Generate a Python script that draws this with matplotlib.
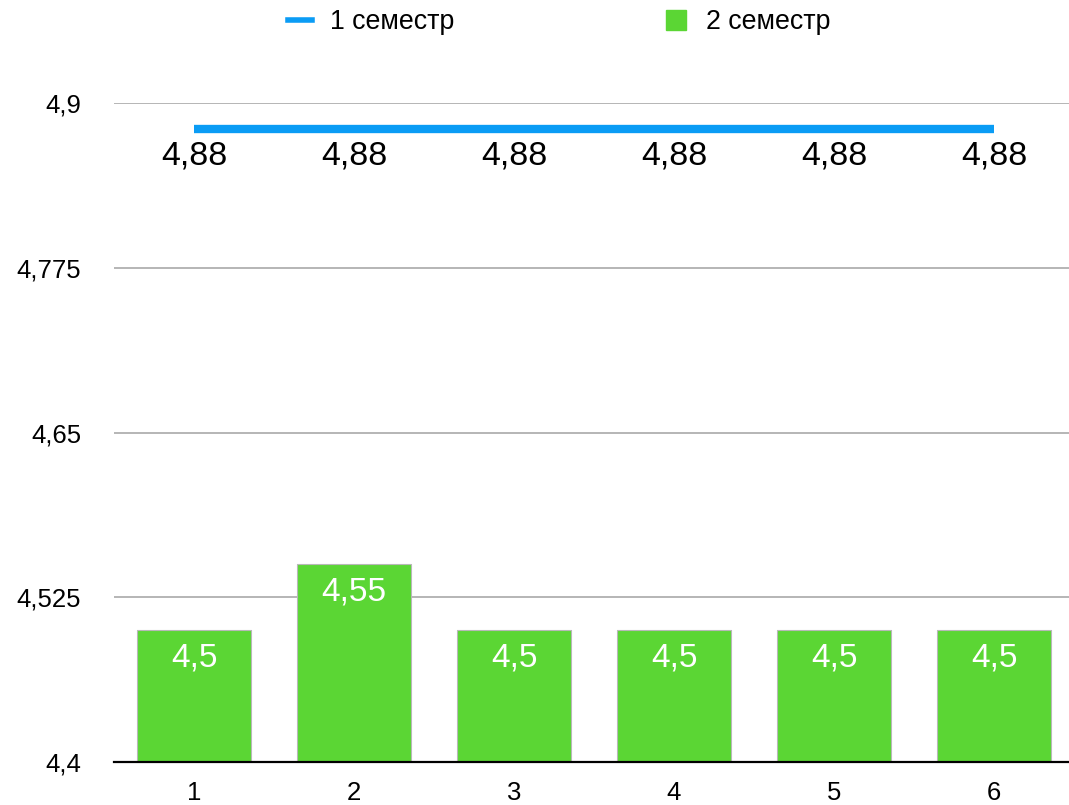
import matplotlib
matplotlib.use("Agg")
import matplotlib.pyplot as plt
from matplotlib.lines import Line2D
import numpy as np

plt.rcParams['font.family'] = ['Liberation Sans', 'DejaVu Sans']

# data
categories = ['1', '2', '3', '4', '5', '6']
sem1 = [4.88, 4.88, 4.88, 4.88, 4.88, 4.88]
sem2 = [4.5, 4.55, 4.5, 4.5, 4.5, 4.5]
yticks = [4.4, 4.525, 4.65, 4.775, 4.9]
series_names = ['1 семестр', '2 семестр']

blue = '#0A9CF5'
green = '#5BD634'

def fmt(v):
    return ('%g' % v).replace('.', ',')

fig = plt.figure(figsize=(10.69, 8.05), dpi=100)
ax = fig.add_axes([114/1069, 1 - 762/805, 960/1069, (762-103)/805])

x = np.arange(len(categories))
ax.bar(x, sem2, width=0.71, bottom=0, color=green, edgecolor='#b8b8b8',
       linewidth=0.8, zorder=2)
ax.plot(x, sem1, color=blue, lw=6, solid_capstyle='butt', zorder=3)

ax.set_xlim(-0.5, len(categories) - 0.5)
ax.set_ylim(4.4, 4.9)
ax.set_yticks(yticks)
ax.set_yticklabels([fmt(v) for v in yticks], fontsize=18.5)
ax.set_xticks(x)
ax.set_xticklabels(categories, fontsize=18.5)
ax.tick_params(axis='both', length=0)
ax.tick_params(axis='y', pad=23.5)
ax.tick_params(axis='x', pad=14)

ax.yaxis.grid(True, color='#b0b0b0', lw=1.3, zorder=0)
ax.set_axisbelow(True)
for s in ['top', 'right', 'left']:
    ax.spines[s].set_visible(False)
ax.spines['bottom'].set_linewidth(1.6)
ax.spines['bottom'].set_zorder(4)

for xi, v in zip(x, sem1):
    ax.annotate(fmt(v), (xi, v), xytext=(0, -19.5), textcoords='offset points',
                ha='center', va='center', fontsize=24.5, color='black')
for xi, v in zip(x, sem2):
    ax.annotate(fmt(v), (xi, v), xytext=(0, -20), textcoords='offset points',
                ha='center', va='center', fontsize=24, color='white', zorder=5)

handles = [Line2D([], [], color=blue, lw=4),
           Line2D([], [], color=green, marker='s', markersize=14.4, lw=0)]
fig.legend(handles, series_names, loc='center', bbox_to_anchor=(559/1069, 1 - 22/805),
           ncol=2, frameon=False, fontsize=19.3, handlelength=0.9,
           handletextpad=0.67, columnspacing=7.8)

fig.savefig('out.png', dpi=100)
